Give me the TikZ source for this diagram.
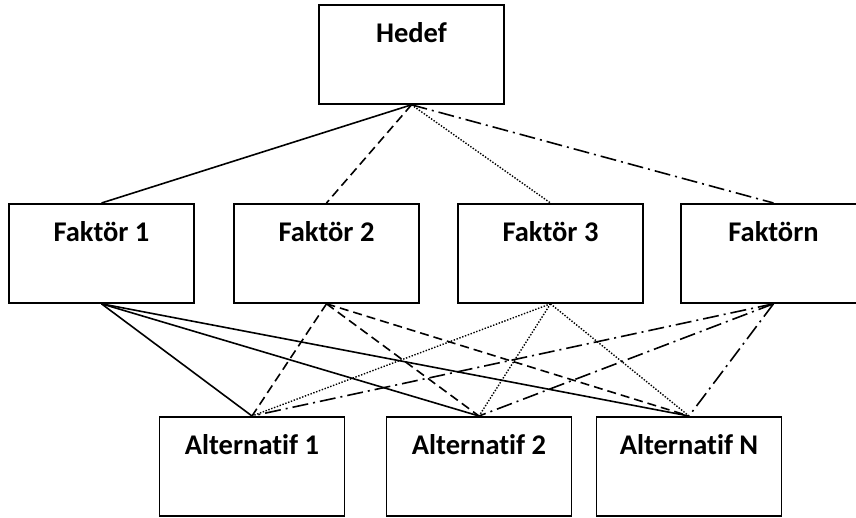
\documentclass[tikz,border=0pt]{standalone}
\usepackage{fontspec}
\setmainfont[Ligatures=NoCommon]{Carlito}
\begin{document}
\begin{tikzpicture}[x=1pt,y=-1pt,
  box/.style={draw, line width=1.8pt, inner sep=0pt, minimum width=185pt,
    text height=38pt, text depth=61pt, align=center,
    font=\fontsize{28.5}{32}\selectfont\bfseries},
  solidline/.style={line width=1.6pt},
  dashline/.style={line width=1.6pt, dash pattern=on 9pt off 5pt},
  dotline/.style={line width=1.4pt, dash pattern=on 1.4pt off 1.6pt},
  dashdotline/.style={line width=1.6pt, dash pattern=on 16pt off 5pt on 2pt off 5pt}]
\useasboundingbox (0,0) rectangle (856,517);
\clip (0,0) rectangle (856,517);
\fill[white] (0,0) rectangle (856,517);
\node[box, anchor=north] (h) at (411.5,4) {Hedef};
\node[box, anchor=north] (f1) at (101.5,203) {Faktör 1};
\node[box, anchor=north] (f2) at (326.5,203) {Faktör 2};
\node[box, anchor=north] (f3) at (550.5,203) {Faktör 3};
\node[box, anchor=north] (fn) at (773.5,203) {Faktörn};
\node[box, anchor=north] (a1) at (252,416) {Alternatif 1};
\node[box, anchor=north] (a2) at (479,416) {Alternatif 2};
\node[box, anchor=north] (an) at (689,416) {Alternatif N};
\draw[solidline] (h.south) -- (f1.north);
\draw[dashline] (h.south) -- (f2.north);
\draw[dotline] (h.south) -- (f3.north);
\draw[dashdotline] (h.south) -- (fn.north);
\foreach \a in {a1,a2,an}{
  \draw[solidline] (f1.south) -- (\a.north);
  \draw[dashline] (f2.south) -- (\a.north);
  \draw[dotline] (f3.south) -- (\a.north);
  \draw[dashdotline] (fn.south) -- (\a.north);
}
\end{tikzpicture}
\end{document}
